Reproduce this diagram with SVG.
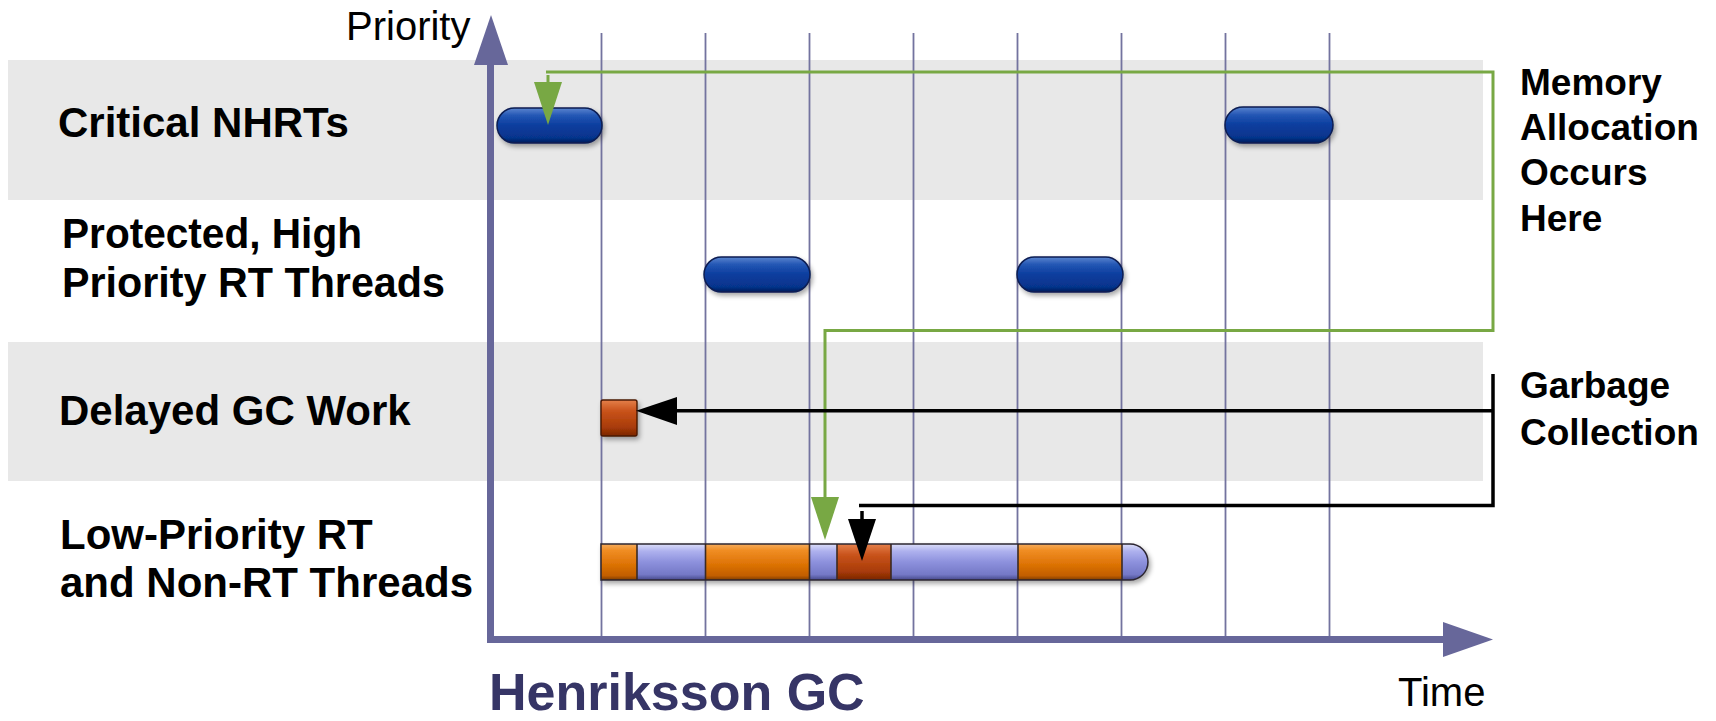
<svg xmlns="http://www.w3.org/2000/svg" width="1716" height="721" viewBox="0 0 1716 721">
  <style>
    .lbl { font-family: "Liberation Sans", Arial, sans-serif; font-weight: bold; font-size: 42px; fill: #000; }
    .side { font-family: "Liberation Sans", Arial, sans-serif; font-weight: bold; font-size: 37px; fill: #000; }
    .axislbl { font-family: "Liberation Sans", Arial, sans-serif; font-size: 40px; fill: #000; }
    .title { font-family: "Liberation Sans", Arial, sans-serif; font-weight: bold; font-size: 52px; fill: #363566; }
    .band { fill: #e8e8e8; }
    .grid { stroke: #73739f; stroke-width: 1.8; }
    .axis { fill: #67679a; }
    .green { fill: none; stroke: #78a844; stroke-width: 3; }
    .greenhead { fill: #78a844; }
    .black { fill: none; stroke: #000; stroke-width: 3.5; }
    .pill { fill: url(#gBlue); stroke: #0a1d52; stroke-width: 1.5; filter: url(#shadow); }
    .seg-sep { stroke: #3a2a22; stroke-width: 1.6; }
  </style>
  <defs>
    <linearGradient id="gBlue" x1="0" y1="0" x2="0" y2="1">
      <stop offset="0" stop-color="#5b84cf"/>
      <stop offset="0.22" stop-color="#2356b4"/>
      <stop offset="0.5" stop-color="#0b3d9e"/>
      <stop offset="0.85" stop-color="#06348c"/>
      <stop offset="1" stop-color="#021d5a"/>
    </linearGradient>
    <linearGradient id="gOrange" x1="0" y1="0" x2="0" y2="1">
      <stop offset="0" stop-color="#f4ac5c"/>
      <stop offset="0.18" stop-color="#f08d24"/>
      <stop offset="0.55" stop-color="#de7406"/>
      <stop offset="0.88" stop-color="#c25e00"/>
      <stop offset="1" stop-color="#7e3c00"/>
    </linearGradient>
    <linearGradient id="gRed" x1="0" y1="0" x2="0" y2="1">
      <stop offset="0" stop-color="#e4804a"/>
      <stop offset="0.3" stop-color="#c9531b"/>
      <stop offset="0.75" stop-color="#a93c08"/>
      <stop offset="1" stop-color="#7a2602"/>
    </linearGradient>
    <linearGradient id="gLav" x1="0" y1="0" x2="0" y2="1">
      <stop offset="0" stop-color="#dcdef8"/>
      <stop offset="0.2" stop-color="#aeb1ee"/>
      <stop offset="0.5" stop-color="#8d91dd"/>
      <stop offset="0.85" stop-color="#7478c6"/>
      <stop offset="1" stop-color="#45478a"/>
    </linearGradient>
    <filter id="shadow" x="-20%" y="-40%" width="140%" height="190%">
      <feGaussianBlur in="SourceAlpha" stdDeviation="2.5"/>
      <feOffset dx="2" dy="3" result="off"/>
      <feComponentTransfer><feFuncA type="linear" slope="0.35"/></feComponentTransfer>
      <feMerge><feMergeNode/><feMergeNode in="SourceGraphic"/></feMerge>
    </filter>
    <clipPath id="barClip">
      <path d="M601,544 H1130 A18,18 0 0 1 1130,580 H601 Z"/>
    </clipPath>
  </defs>

  <rect width="1716" height="721" fill="#fff"/>

  <!-- priority bands -->
  <g id="bands">
    <rect class="band" x="8" y="60" width="1475" height="140"/>
    <rect class="band" x="8" y="342" width="1475" height="139"/>
  </g>

  <!-- time grid -->
  <g id="grid">
    <line class="grid" x1="601.5" y1="33" x2="601.5" y2="636"/>
    <line class="grid" x1="705.5" y1="33" x2="705.5" y2="636"/>
    <line class="grid" x1="809.5" y1="33" x2="809.5" y2="636"/>
    <line class="grid" x1="913.5" y1="33" x2="913.5" y2="636"/>
    <line class="grid" x1="1017.5" y1="33" x2="1017.5" y2="636"/>
    <line class="grid" x1="1121.5" y1="33" x2="1121.5" y2="636"/>
    <line class="grid" x1="1225.5" y1="33" x2="1225.5" y2="636"/>
    <line class="grid" x1="1329.5" y1="33" x2="1329.5" y2="636"/>
  </g>

  <!-- row labels -->
  <g id="row-critical"><text class="lbl" x="58" y="137">Critical NHRTs</text></g>
  <g id="row-protected">
    <text class="lbl" x="62" y="248" textLength="300" lengthAdjust="spacingAndGlyphs">Protected, High</text>
    <text class="lbl" x="62" y="297" textLength="383" lengthAdjust="spacingAndGlyphs">Priority RT Threads</text>
  </g>
  <g id="row-delayed"><text class="lbl" x="59" y="425">Delayed GC Work</text></g>
  <g id="row-low">
    <text class="lbl" x="60" y="549">Low-Priority RT</text>
    <text class="lbl" x="60" y="597">and Non-RT Threads</text>
  </g>

  <!-- thread activity -->
  <g id="pill-critical-1"><rect class="pill" x="497" y="108" width="105" height="35" rx="17.5"/></g>
  <g id="pill-critical-2"><rect class="pill" x="1225" y="107" width="108" height="36" rx="18"/></g>
  <g id="pill-protected-1"><rect class="pill" x="704" y="257" width="106" height="35" rx="17.5"/></g>
  <g id="pill-protected-2"><rect class="pill" x="1017" y="257" width="106" height="35" rx="17.5"/></g>

  <g id="gc-delayed">
    <rect x="601" y="400" width="36" height="36" rx="2" fill="url(#gRed)" stroke="#4a1800" stroke-width="1.4" filter="url(#shadow)"/>
  </g>

  <g id="low-priority-bar" filter="url(#shadow)">
    <g clip-path="url(#barClip)">
      <rect x="601" y="544" width="36" height="36" fill="url(#gOrange)"/>
      <rect x="637" y="544" width="68.5" height="36" fill="url(#gLav)"/>
      <rect x="705.5" y="544" width="104" height="36" fill="url(#gOrange)"/>
      <rect x="809.5" y="544" width="27.5" height="36" fill="url(#gLav)"/>
      <rect x="837" y="544" width="54" height="36" fill="url(#gRed)"/>
      <rect x="891" y="544" width="127" height="36" fill="url(#gLav)"/>
      <rect x="1018" y="544" width="104" height="36" fill="url(#gOrange)"/>
      <rect x="1122" y="544" width="30" height="36" fill="url(#gLav)"/>
      <line class="seg-sep" x1="637" y1="544" x2="637" y2="580"/>
      <line class="seg-sep" x1="705.5" y1="544" x2="705.5" y2="580"/>
      <line class="seg-sep" x1="809.5" y1="544" x2="809.5" y2="580"/>
      <line class="seg-sep" x1="837" y1="544" x2="837" y2="580"/>
      <line class="seg-sep" x1="891" y1="544" x2="891" y2="580"/>
      <line class="seg-sep" x1="1018" y1="544" x2="1018" y2="580"/>
      <line class="seg-sep" x1="1122" y1="544" x2="1122" y2="580"/>
    </g>
    <path d="M601,544 H1130 A18,18 0 0 1 1130,580 H601 Z" fill="none" stroke="#2c2630" stroke-width="1.5"/>
  </g>

  <!-- axes -->
  <g id="axes">
    <rect class="axis" x="487" y="60" width="7" height="583"/>
    <polygon class="axis" points="491,15 508,65 474,65"/>
    <rect class="axis" x="487" y="636" width="960" height="7"/>
    <polygon class="axis" points="1493,639.5 1443,622 1443,657"/>
  </g>

  <!-- connectors -->
  <g id="connectors">
    <path class="green" d="M546,72 H1493 V330.5 H825 V500"/>
    <polygon class="greenhead" points="825,540 811,497 839,497"/>
    <path class="green" d="M548,75 V86"/>
    <polygon class="greenhead" points="548,125 534,82 562,82"/>

    <path class="black" d="M1493,374 V505.5 H859"/>
    <path class="black" d="M1493,410.7 H674"/>
    <polygon points="636,410.7 677,397 677,425" fill="#000"/>
    <path class="black" d="M862,511 V522"/>
    <polygon points="862,561 848,519 876,519" fill="#000"/>
  </g>

  <!-- annotations -->
  <g id="note-memory">
    <text class="side" x="1520" y="95">Memory</text>
    <text class="side" x="1520" y="140">Allocation</text>
    <text class="side" x="1520" y="185">Occurs</text>
    <text class="side" x="1520" y="231">Here</text>
  </g>
  <g id="note-gc">
    <text class="side" x="1520" y="398">Garbage</text>
    <text class="side" x="1520" y="445">Collection</text>
  </g>

  <!-- axis titles -->
  <g id="axis-labels">
    <text class="axislbl" x="346" y="40">Priority</text>
    <text class="axislbl" x="1398" y="706" font-size="41">Time</text>
    <text class="title" x="489" y="710">Henriksson GC</text>
  </g>
</svg>
